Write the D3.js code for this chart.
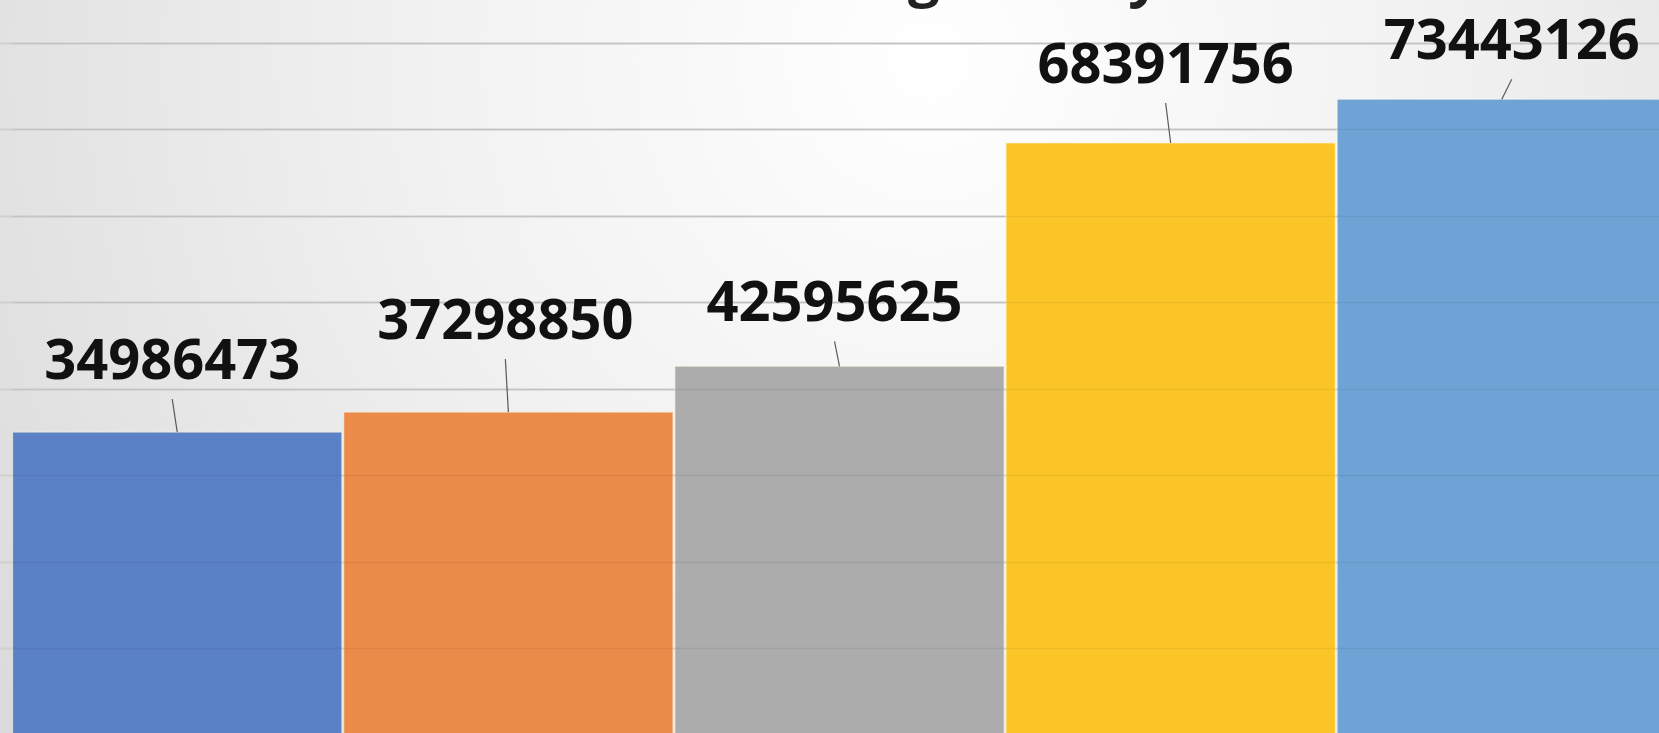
<!DOCTYPE html>
<html>
<head>
<meta charset="utf-8">
<script src="https://cdn.jsdelivr.net/npm/d3@7"></script>
<style>
html,body{margin:0;padding:0;overflow:hidden;background:#fff;}
svg{display:block;}
</style>
</head>
<body>
<svg id="chart" width="1659" height="733"></svg>
<script>
// ---- data ----
const categories = ["A", "B", "C", "D", "E"];
const values = [34986473, 37298850, 42595625, 68391756, 73443126];
const colors = ["#5a80c6", "#ea8b4a", "#acacac", "#fcc527", "#6fa3d6"];
const gridTicks = [10000000, 20000000, 30000000, 40000000, 50000000, 60000000, 70000000, 80000000];
const titleText = "Average Salary";
// manual data-label placement (px offsets of label baseline/centre from bar top/centre)
const labelDx = [-5, -3, -5, -5, 10];
const labelDy = [-53, -73, -45, -60, -40];

const W = 1659, H = 733;
const svg = d3.select("#chart");

// background radial gradient
const defs = svg.append("defs");
const rg = defs.append("radialGradient").attr("id", "bg")
  .attr("gradientUnits", "userSpaceOnUse")
  .attr("cx", 930).attr("cy", 60).attr("r", 1150);
rg.append("stop").attr("offset", "0").attr("stop-color", "#ffffff");
rg.append("stop").attr("offset", "0.45").attr("stop-color", "#f1f1f1");
rg.append("stop").attr("offset", "1").attr("stop-color", "#dadada");
svg.append("rect").attr("width", W).attr("height", H).attr("fill", "url(#bg)");

const x = d3.scaleBand().domain(categories).range([12, 1667]).paddingInner(0.006).paddingOuter(0.002);
const y = d3.scaleLinear().domain([0, 80000000]).range([735, 42.5]);

// gridlines
svg.append("g").selectAll("line").data(gridTicks).join("line")
  .attr("x1", 0).attr("x2", W)
  .attr("y1", d => Math.round(y(d)) + 0.5).attr("y2", d => Math.round(y(d)) + 0.5)
  .attr("stroke", "#d0d0d0").attr("stroke-width", 2);

// bars
svg.append("g").selectAll("rect").data(values).join("rect")
  .attr("x", (d, i) => x(categories[i]))
  .attr("y", d => y(d))
  .attr("width", x.bandwidth())
  .attr("height", d => y(0) - y(d))
  .attr("fill", (d, i) => colors[i])
  .attr("stroke", "rgba(255,245,225,0.6)")
  .attr("stroke-width", 1);

// gridlines faintly visible through bars
svg.append("g").selectAll("line").data(gridTicks).join("line")
  .attr("x1", x(categories[0])).attr("x2", W)
  .attr("y1", d => Math.round(y(d)) + 0.5).attr("y2", d => Math.round(y(d)) + 0.5)
  .attr("stroke", "rgba(0,0,0,0.06)").attr("stroke-width", 1.5);

// leader lines
svg.append("g").selectAll("line").data(values).join("line")
  .attr("x1", (d, i) => x(categories[i]) + x.bandwidth() / 2 + labelDx[i])
  .attr("y1", (d, i) => y(d) + labelDy[i] + 20)
  .attr("x2", (d, i) => x(categories[i]) + x.bandwidth() / 2)
  .attr("y2", d => y(d))
  .attr("stroke", "#595959").attr("stroke-width", 1.2);

// data labels
svg.append("g").selectAll("text").data(values).join("text")
  .attr("x", (d, i) => x(categories[i]) + x.bandwidth() / 2 + labelDx[i])
  .attr("y", (d, i) => y(d) + labelDy[i])
  .attr("text-anchor", "middle")
  .attr("font-family", "'Open Sans', sans-serif")
  .attr("font-weight", 700)
  .attr("font-size", 56)
  .attr("fill", "#111")
  .text(d => String(d));

// title (mostly above the visible area; only descenders show, as in the reference crop)
const title = svg.append("text")
  .attr("x", 0).attr("y", -4)
  .attr("font-family", "'Open Sans', sans-serif")
  .attr("font-weight", 700)
  .attr("font-size", 56)
  .attr("fill", "#222")
  .text(titleText);
try {
  const gPos = title.node().getStartPositionOfChar(titleText.indexOf("g")).x;
  title.attr("x", 908 - gPos);
} catch (e) { title.attr("x", 700); }
</script>
</body>
</html>
